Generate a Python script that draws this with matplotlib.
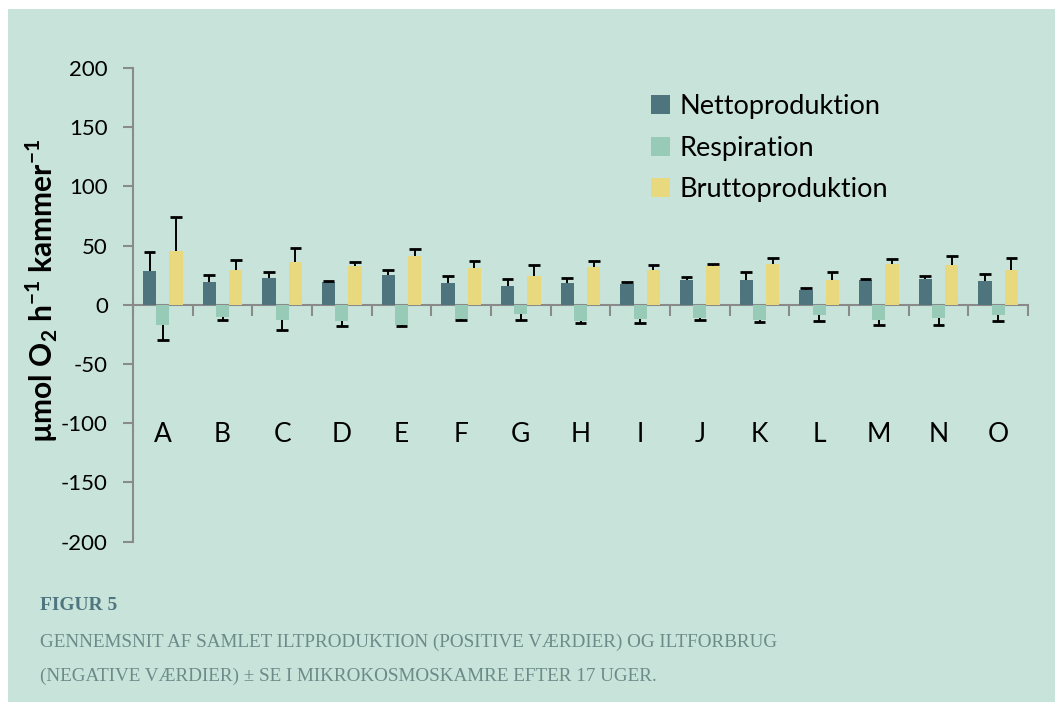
import matplotlib.pyplot as plt
import matplotlib.patches as mpatches
import numpy as np

plt.rcParams['font.family'] = ['Lato', 'DejaVu Sans']
plt.rcParams['axes.unicode_minus'] = False
plt.rcParams['mathtext.fontset'] = 'custom'
plt.rcParams['mathtext.rm'] = 'Lato'
plt.rcParams['mathtext.bf'] = 'Lato:bold'

# Data
categories = ["A", "B", "C", "D", "E", "F", "G", "H", "I", "J", "K", "L", "M", "N", "O"]
netto = [28.8, 19.1, 22.8, 19.1, 24.8, 18.3, 16.1, 18.6, 17.4, 21.1, 21.1, 12.1, 21.1, 22.0, 20.0]
netto_se = [15.5, 5.7, 4.5, 0.6, 4.8, 5.6, 5.6, 4.2, 1.7, 2.6, 6.5, 1.7, 0.9, 1.9, 5.6]
resp = [-16.7, -10.5, -12.7, -13.8, -16.7, -12.4, -8.2, -13.8, -12.4, -11.3, -13.3, -9.0, -13.0, -11.3, -9.0]
resp_se = [13.5, 2.2, 8.5, 4.3, 1.1, 0.9, 5.1, 1.7, 3.1, 1.7, 1.4, 4.8, 3.7, 5.9, 4.8]
brutto = [45.3, 29.3, 35.8, 32.6, 41.1, 30.7, 24.5, 32.1, 29.6, 32.4, 34.3, 20.8, 34.1, 33.5, 29.3]
brutto_se = [28.8, 8.2, 12.4, 3.7, 5.7, 6.2, 8.7, 5.1, 4.2, 1.9, 5.1, 7.1, 4.2, 7.6, 9.9]

# Colors
bg = "#c8e4da"
c_netto = "#4e757e"
c_resp = "#97cab7"
c_brutto = "#e8d87e"
axis_grey = "#8a8a8a"

fig = plt.figure(figsize=(10.55, 7.02), dpi=100, facecolor="white")
# mint panel behind everything
fig.patches.append(mpatches.Rectangle((8 / 1055, 0), 1, 1 - 9 / 702, transform=fig.transFigure,
                                      facecolor=bg, edgecolor="none", zorder=-10))

ax = fig.add_axes([133 / 1055, 1 - 541.5 / 702, 895 / 1055, 473.5 / 702])
ax.set_facecolor("none")
ax.set_zorder(5)

x = np.arange(len(categories))
w = 0.223
half_cap = 0.1

series = [(x - w, netto, netto_se, 1, c_netto, "Nettoproduktion"),
          (x, resp, resp_se, -1, c_resp, "Respiration"),
          (x + w, brutto, brutto_se, 1, c_brutto, "Bruttoproduktion")]

for pos, vals, se, sign, col, name in series:
    vals = np.array(vals)
    ends = vals + sign * np.array(se)
    ax.bar(pos, vals, w, color=col, label=name, zorder=3)
    # one-sided error bars, cap only at the outer end
    ax.vlines(pos, vals, ends, color="black", linewidth=1.4, zorder=4)
    ax.hlines(ends, pos - half_cap, pos + half_cap, color="black", linewidth=2, zorder=4)

ax.set_xlim(-0.5, len(categories) - 0.5)
ax.set_ylim(-200, 200)
ax.set_yticks(np.arange(-200, 201, 50))
ax.tick_params(axis="y", direction="out", length=7, width=1.5, color=axis_grey,
               labelsize=16, pad=11)

# x axis at zero with ticks between categories
ax.spines["bottom"].set_position(("data", 0))
ax.spines["bottom"].set_color(axis_grey)
ax.spines["bottom"].set_linewidth(1.5)
ax.spines["left"].set_color(axis_grey)
ax.spines["left"].set_linewidth(1.5)
ax.spines["top"].set_visible(False)
ax.spines["right"].set_visible(False)
ax.set_xticks(np.arange(len(categories) + 1) - 0.5)
ax.set_xticklabels([])
ax.tick_params(axis="x", direction="out", length=8, width=1.5, color=axis_grey)

for i, cat in enumerate(categories):
    ax.text(i, -110, cat, ha="center", va="center", fontsize=19)

ax.set_ylabel(r"µmol O$_\mathbf{2}$ h$^\mathbf{-1}$ kammer$^\mathbf{-1}$",
              fontsize=21.5, fontweight="bold")
ax.yaxis.set_label_coords(-0.082, 0.53)

leg = ax.legend(loc="upper left", bbox_to_anchor=(0.5515, 0.997), frameon=False,
                fontsize=19.5, handlelength=0.7, handleheight=0.7, handletextpad=0.35,
                labelspacing=0.62)

# caption
fig.text(40 / 1055, 1 - 606 / 702, "FIGUR 5", fontsize=14, fontweight="bold",
         family="Liberation Serif", color="#4e7580", va="center")
fig.text(40 / 1055, 1 - 642 / 702,
         "GENNEMSNIT AF SAMLET ILTPRODUKTION (POSITIVE VÆRDIER) OG ILTFORBRUG",
         fontsize=13.75, family="Liberation Serif", color="#6c8a88", va="center")
fig.text(40 / 1055, 1 - 676 / 702,
         "(NEGATIVE VÆRDIER) ± SE I MIKROKOSMOSKAMRE EFTER 17 UGER.",
         fontsize=13.75, family="Liberation Serif", color="#6c8a88", va="center")

fig.savefig("out.png", dpi=100, facecolor="white")
